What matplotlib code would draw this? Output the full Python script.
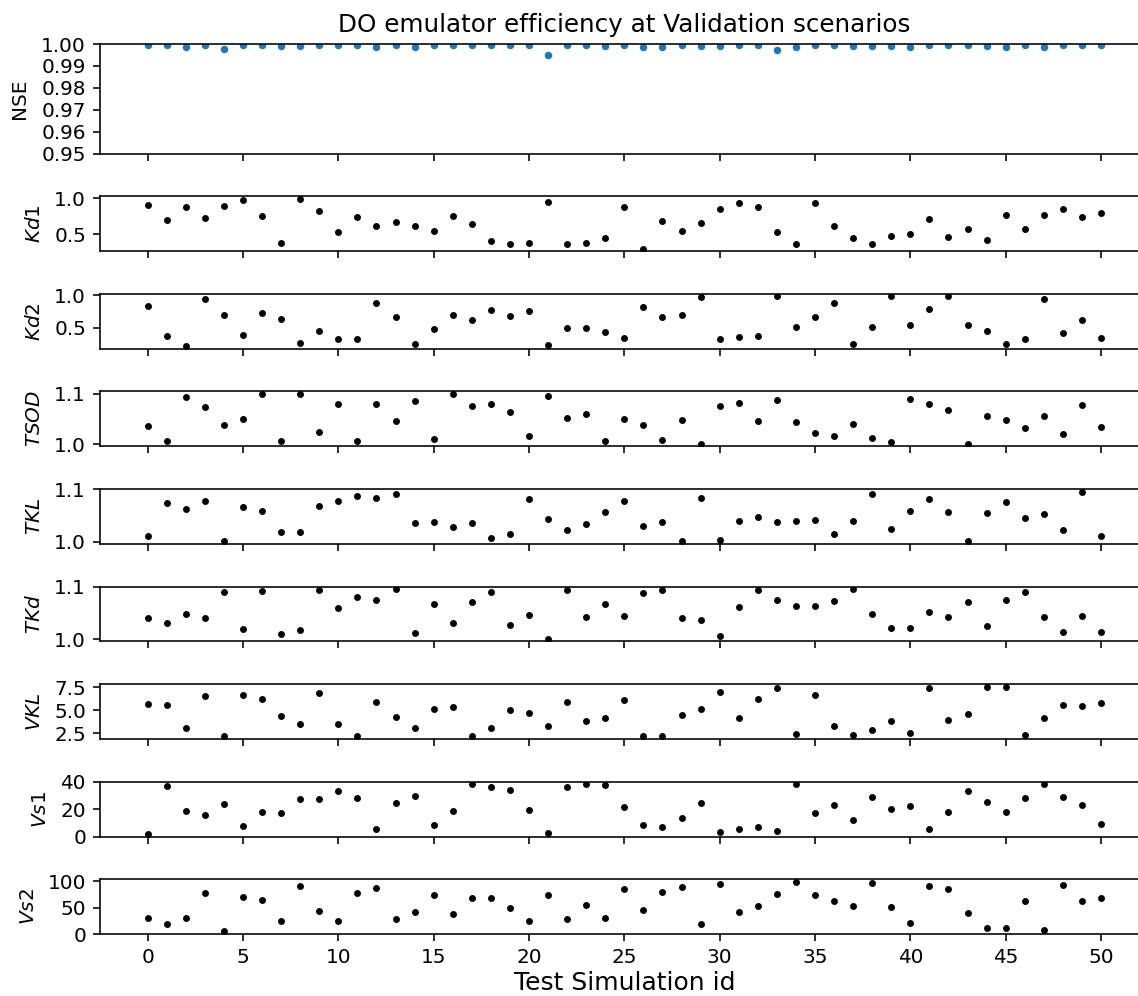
import numpy as np
import matplotlib
matplotlib.use("Agg")
import matplotlib.pyplot as plt

# test simulation ids
sim_id = np.arange(51)

nse = [0.9995, 0.9995, 0.9988, 0.9996, 0.9976, 0.9996, 0.99955, 0.9992, 0.999, 0.99955,
       0.9994, 0.9994, 0.9988, 0.9994, 0.9985, 0.9997, 0.99955, 0.99955, 0.9994, 0.99955,
       0.9997, 0.9949, 0.99955, 0.9994, 0.99925, 0.9994, 0.9985, 0.9988, 0.99955, 0.99925,
       0.9990, 0.99955, 0.9997, 0.9973, 0.9985, 0.9997, 0.99955, 0.99925, 0.9989, 0.9989,
       0.9985, 0.9994, 0.99955, 0.9994, 0.9989, 0.9985, 0.9994, 0.9988, 0.99955, 0.99955,
       0.9997]

kd1 = [0.91, 0.70, 0.88, 0.72, 0.89, 0.97, 0.75, 0.375, 0.99, 0.82,
       0.53, 0.74, 0.62, 0.67, 0.62, 0.54, 0.755, 0.64, 0.41, 0.36,
       0.38, 0.95, 0.36, 0.38, 0.455, 0.875, 0.30, 0.68, 0.55, 0.66,
       0.85, 0.93, 0.88, 0.53, 0.37, 0.93, 0.62, 0.45, 0.37, 0.48,
       0.50, 0.71, 0.47, 0.575, 0.415, 0.77, 0.57, 0.765, 0.85, 0.74,
       0.79]

kd2 = [0.84, 0.37, 0.22, 0.945, 0.69, 0.395, 0.725, 0.635, 0.27, 0.45,
       0.325, 0.325, 0.875, 0.67, 0.26, 0.49, 0.695, 0.625, 0.77, 0.675,
       0.755, 0.24, 0.505, 0.505, 0.435, 0.345, 0.815, 0.66, 0.69, 0.97,
       0.33, 0.365, 0.385, 0.98, 0.52, 0.665, 0.885, 0.26, 0.52, 0.98,
       0.545, 0.795, 0.98, 0.545, 0.455, 0.26, 0.33, 0.94, 0.42, 0.62,
       0.34]

tsod = [1.037, 1.006, 1.094, 1.0735, 1.039, 1.050, 1.100, 1.0066, 1.099, 1.025,
        1.081, 1.006, 1.081, 1.047, 1.086, 1.011, 1.100, 1.076, 1.081, 1.064,
        1.0165, 1.096, 1.052, 1.060, 1.006, 1.050, 1.038, 1.008, 1.048, 1.001,
        1.076, 1.083, 1.047, 1.088, 1.044, 1.023, 1.0165, 1.040, 1.013, 1.005,
        1.091, 1.081, 1.0675, 1.0007, 1.057, 1.048, 1.032, 1.056, 1.020, 1.078,
        1.034]

tkl = [1.011, 1.075, 1.0635, 1.077, 1.001, 1.066, 1.0585, 1.0195, 1.019, 1.0685,
       1.077, 1.088, 1.0835, 1.091, 1.0365, 1.038, 1.028, 1.036, 1.008, 1.014,
       1.082, 1.043, 1.0225, 1.034, 1.0565, 1.0785, 1.031, 1.037, 1.002, 1.083,
       1.0025, 1.039, 1.048, 1.038, 1.040, 1.041, 1.0145, 1.039, 1.0905, 1.025,
       1.058, 1.081, 1.056, 1.0006, 1.0545, 1.0755, 1.0445, 1.053, 1.0225, 1.096,
       1.011]

tkd = [1.0405, 1.031, 1.048, 1.0405, 1.0905, 1.020, 1.0925, 1.0106, 1.018, 1.093,
       1.060, 1.081, 1.0755, 1.0955, 1.012, 1.067, 1.0305, 1.0705, 1.089, 1.0275,
       1.0455, 1.0006, 1.094, 1.043, 1.068, 1.044, 1.0875, 1.094, 1.0405, 1.037,
       1.006, 1.062, 1.094, 1.074, 1.064, 1.063, 1.0725, 1.095, 1.048, 1.021,
       1.021, 1.052, 1.0425, 1.0705, 1.0256, 1.074, 1.089, 1.0425, 1.0137, 1.044,
       1.0137]

vkl = [5.67, 5.57, 3.09, 6.60, 2.16, 6.67, 6.24, 4.40, 3.51, 6.84,
       3.51, 2.20, 5.85, 4.29, 3.05, 5.14, 5.32, 2.13, 3.09, 5.04,
       4.72, 3.23, 5.89, 3.83, 4.18, 6.17, 2.16, 2.23, 4.50, 5.14,
       7.02, 4.15, 6.28, 7.45, 2.41, 6.67, 3.33, 2.34, 2.87, 3.83,
       2.48, 7.45, 3.90, 4.61, 7.52, 7.59, 2.30, 4.18, 5.53, 5.46,
       5.78]

vs1 = [2.1, 36.9, 18.3, 15.5, 23.6, 7.6, 17.6, 16.9, 27.1, 27.4,
       33.3, 28.3, 5.7, 24.8, 29.3, 8.1, 18.3, 38.1, 36.0, 34.3,
       19.3, 2.6, 36.4, 38.1, 37.9, 21.7, 8.1, 6.7, 13.6, 24.8,
       3.6, 5.2, 6.9, 3.8, 38.1, 17.1, 22.9, 12.4, 28.8, 20.0,
       22.1, 5.5, 18.1, 33.1, 25.2, 17.9, 28.1, 38.3, 28.8, 23.3,
       9.5]

vs2 = [30.3, 18.8, 30.3, 78.2, 5.5, 70.3, 63.6, 24.2, 90.9, 44.2,
       24.8, 77.6, 86.7, 27.9, 42.4, 74.5, 38.2, 67.3, 67.3, 48.5,
       24.2, 74.5, 27.9, 55.2, 30.9, 84.8, 45.5, 79.4, 89.1, 19.4,
       95.2, 41.2, 53.3, 75.2, 98.8, 72.7, 61.8, 52.1, 97.0, 50.3,
       20.6, 90.3, 84.2, 38.8, 12.1, 12.1, 62.4, 8.5, 93.3, 61.8,
       67.9]

params = [("$Kd1$", kd1, [0.5, 1.0]),
          ("$Kd2$", kd2, [0.5, 1.0]),
          ("$TSOD$", tsod, [1.0, 1.1]),
          ("$TKL$", tkl, [1.0, 1.1]),
          ("$TKd$", tkd, [1.0, 1.1]),
          ("$VKL$", vkl, [2.5, 5.0, 7.5]),
          ("$Vs1$", vs1, [0, 20, 40]),
          ("$Vs2$", vs2, [0, 50, 100])]

fig, axes = plt.subplots(9, 1, sharex=True, figsize=(1138 / 144, 996 / 144), dpi=144,
                         gridspec_kw={"height_ratios": [2] + [1] * 8})
fig.subplots_adjust(left=0.0879, right=1.0094, top=0.9558, bottom=0.0622, hspace=0.70)

ax = axes[0]
ax.scatter(sim_id, nse, s=14, color="C0", linewidths=0)
ax.set_ylim(0.95, 1.0)
ax.set_yticks([0.95, 0.96, 0.97, 0.98, 0.99, 1.00])
ax.set_ylabel("NSE", labelpad=6)
ax.set_title("DO emulator efficiency at Validation scenarios", fontsize=12.3)

for ax, (name, vals, ticks) in zip(axes[1:], params):
    ax.scatter(sim_id, vals, s=12, color="k", linewidths=0)
    ax.set_yticks(ticks)
    ax.set_ylabel(name, labelpad=5)

axes[-1].set_xticks(range(0, 51, 5))
axes[-1].set_xlabel("Test Simulation id", fontsize=12.5, labelpad=2)

fig.savefig("out.png", dpi=144)
